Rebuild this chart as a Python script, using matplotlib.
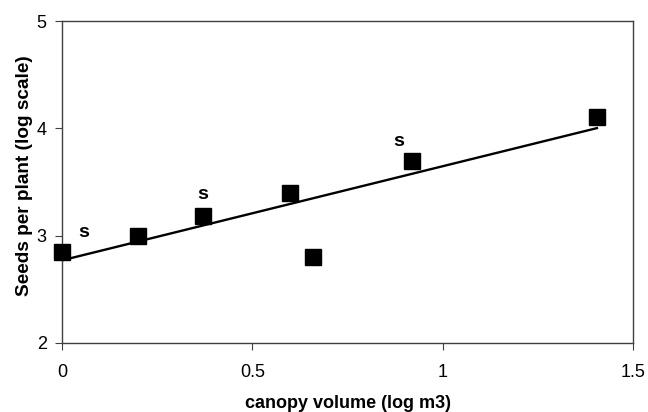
import matplotlib
matplotlib.use("Agg")
import matplotlib.pyplot as plt
import numpy as np

# canopy volume (log m3) vs seeds per plant (log scale)
canopy = [0.0, 0.20, 0.37, 0.60, 0.66, 0.92, 1.405]
seeds = [2.85, 3.00, 3.18, 3.40, 2.80, 3.70, 4.105]

# "s" annotations
s_x = [0.058, 0.37, 0.885]
s_y = [3.03, 3.38, 3.88]

plt.rcParams['font.family'] = ['Liberation Sans', 'DejaVu Sans']

fig = plt.figure(figsize=(6.48, 4.12), dpi=100)
ax = fig.add_axes([0.0957, 0.1675, 0.8813, 0.7815])

# regression line over the data range
slope, icpt = np.polyfit(canopy, seeds, 1)
xl = np.array([min(canopy), max(canopy)])
ax.plot(xl, icpt + slope * xl, color='black', lw=1.7, zorder=2)

ax.plot(canopy, seeds, 's', color='black', markersize=11, zorder=3, clip_on=False)

for x, y in zip(s_x, s_y):
    ax.text(x, y, 's', fontsize=14, fontweight='bold', ha='center', va='center')

ax.set_xlim(0, 1.5)
ax.set_ylim(2, 5)
ax.set_xticks([0, 0.5, 1, 1.5])
ax.set_xticklabels(['0', '0.5', '1', '1.5'])
ax.set_yticks([2, 3, 4, 5])

for sp in ax.spines.values():
    sp.set_color('#404040')
    sp.set_linewidth(1.0)

ax.tick_params(direction='out', length=5, width=0.8, color='#404040',
               labelsize=13, pad=6)
ax.tick_params(axis='x', pad=10)

ax.set_xlabel('canopy volume (log m3)', fontsize=13, fontweight='bold')
ax.set_ylabel('Seeds per plant (log scale)', fontsize=13.7, fontweight='bold')
ax.xaxis.set_label_coords(0.5, -0.163)
ax.yaxis.set_label_coords(-0.05, 0.52)

fig.savefig('out.png', dpi=100)
